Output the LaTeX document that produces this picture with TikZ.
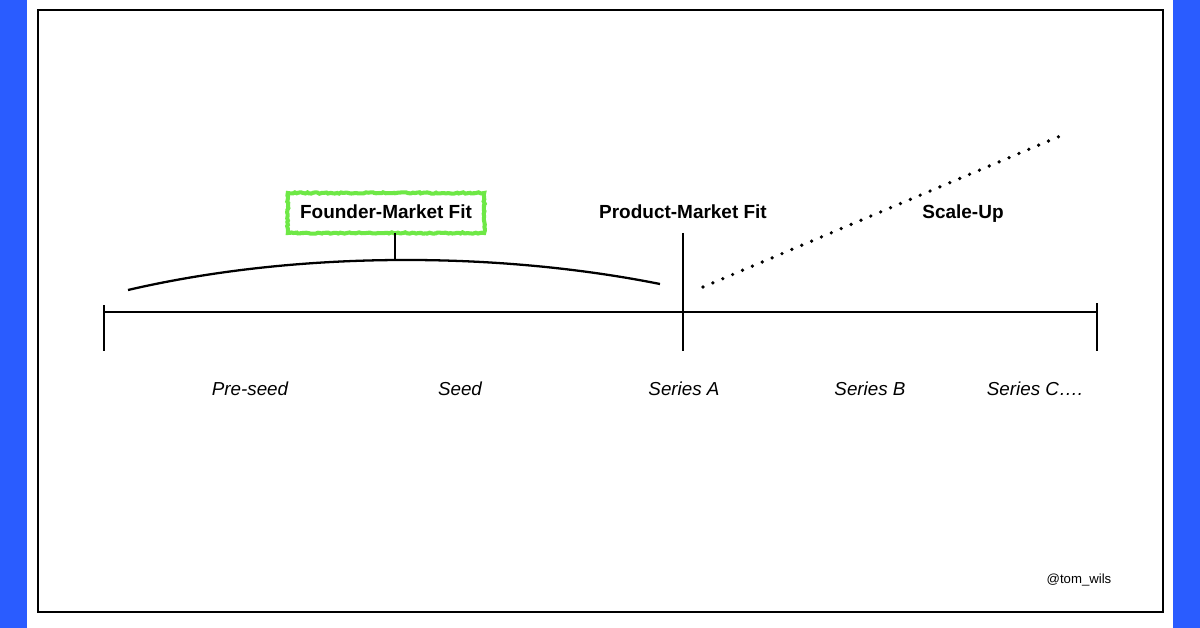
\documentclass[tikz,border=0pt]{standalone}
\usepackage{fontspec}
\setmainfont{Liberation Sans}
\usepackage{tikz}
\usetikzlibrary{positioning,decorations.pathmorphing}
\definecolor{tlblue}{RGB}{42,92,255}
\definecolor{tlgreen}{RGB}{110,232,70}
\tikzset{
  tlline/.style={line width=1.3pt, draw=black},
  tlhead/.style={font=\fontsize{10.8}{12}\selectfont\bfseries, inner sep=2pt,
    text height=8pt, text depth=2pt},
  tlstage/.style={font=\fontsize{10.7}{12}\selectfont\itshape, inner sep=2pt,
    text height=8pt, text depth=2pt},
  tlfit/.style={tlhead, draw=tlgreen, line width=2.3pt, inner xsep=7pt, inner ysep=6pt,
    minimum width=193*0.02cm, minimum height=40*0.02cm,
    decorate, decoration={random steps, segment length=1.2pt, amplitude=0.4pt}},
  tldots/.style={line width=2.1pt, line cap=round, dash pattern=on 0pt off 6.1pt}
}

\begin{document}
\begin{tikzpicture}[x=0.02cm, y=-0.02cm]
  \useasboundingbox (0,0) rectangle (1200,628);
  \fill[white] (0,0) rectangle (1200,628);
  \fill[tlblue] (0,0) rectangle (27,628);
  \fill[tlblue] (1173,0) rectangle (1200,628);
  \draw[line width=1.3pt] (38,10) rectangle (1163,612);
  % timeline
  \coordinate (tStart) at (104,312);
  \coordinate (tEnd) at (1097,312);
  \coordinate (tMid) at (683,312);
  \draw[tlline] (tStart) -- (tEnd);
  \draw[tlline] (104,305) -- (104,351);
  \draw[tlline] (1097,303) -- (1097,351);
  \draw[tlline] (683,233) -- (683,351);
  % founder arc
  \coordinate (aL) at (128,290);
  \coordinate (aR) at (660,284);
  \coordinate (aTop) at (395,259);
  \draw[tlline] (aL) .. controls (300,250) and (500,252) .. (aR);
  \node[tlfit] (fmf) at (386,213) {Founder-Market Fit};
  \draw[tlline] (395,233) -- (aTop);
  % headings
  \node[tlhead] (pmf) at (683,213) {Product-Market Fit};
  \node[tlhead] (scale) at (963,213) {Scale-Up};
  % growth
  \coordinate (gS) at (703,287);
  \coordinate (gE) at (1065,134);
  \draw[tldots] (gS) -- (gE);
  % stages
  \node[tlstage] (preseed) at (250,390) {Pre-seed};
  \node[tlstage] (seed) at (460,390) {Seed};
  \node[tlstage] (seriesA) at (684,390) {Series A};
  \node[tlstage] (seriesB) at (870,390) {Series B};
  \node[tlstage] (seriesC) at (1035,390) {Series C….};
  \node[font=\fontsize{7.5}{9}\selectfont] (handle) at (1079,580) {@tom\_wils};
\end{tikzpicture}
\end{document}
